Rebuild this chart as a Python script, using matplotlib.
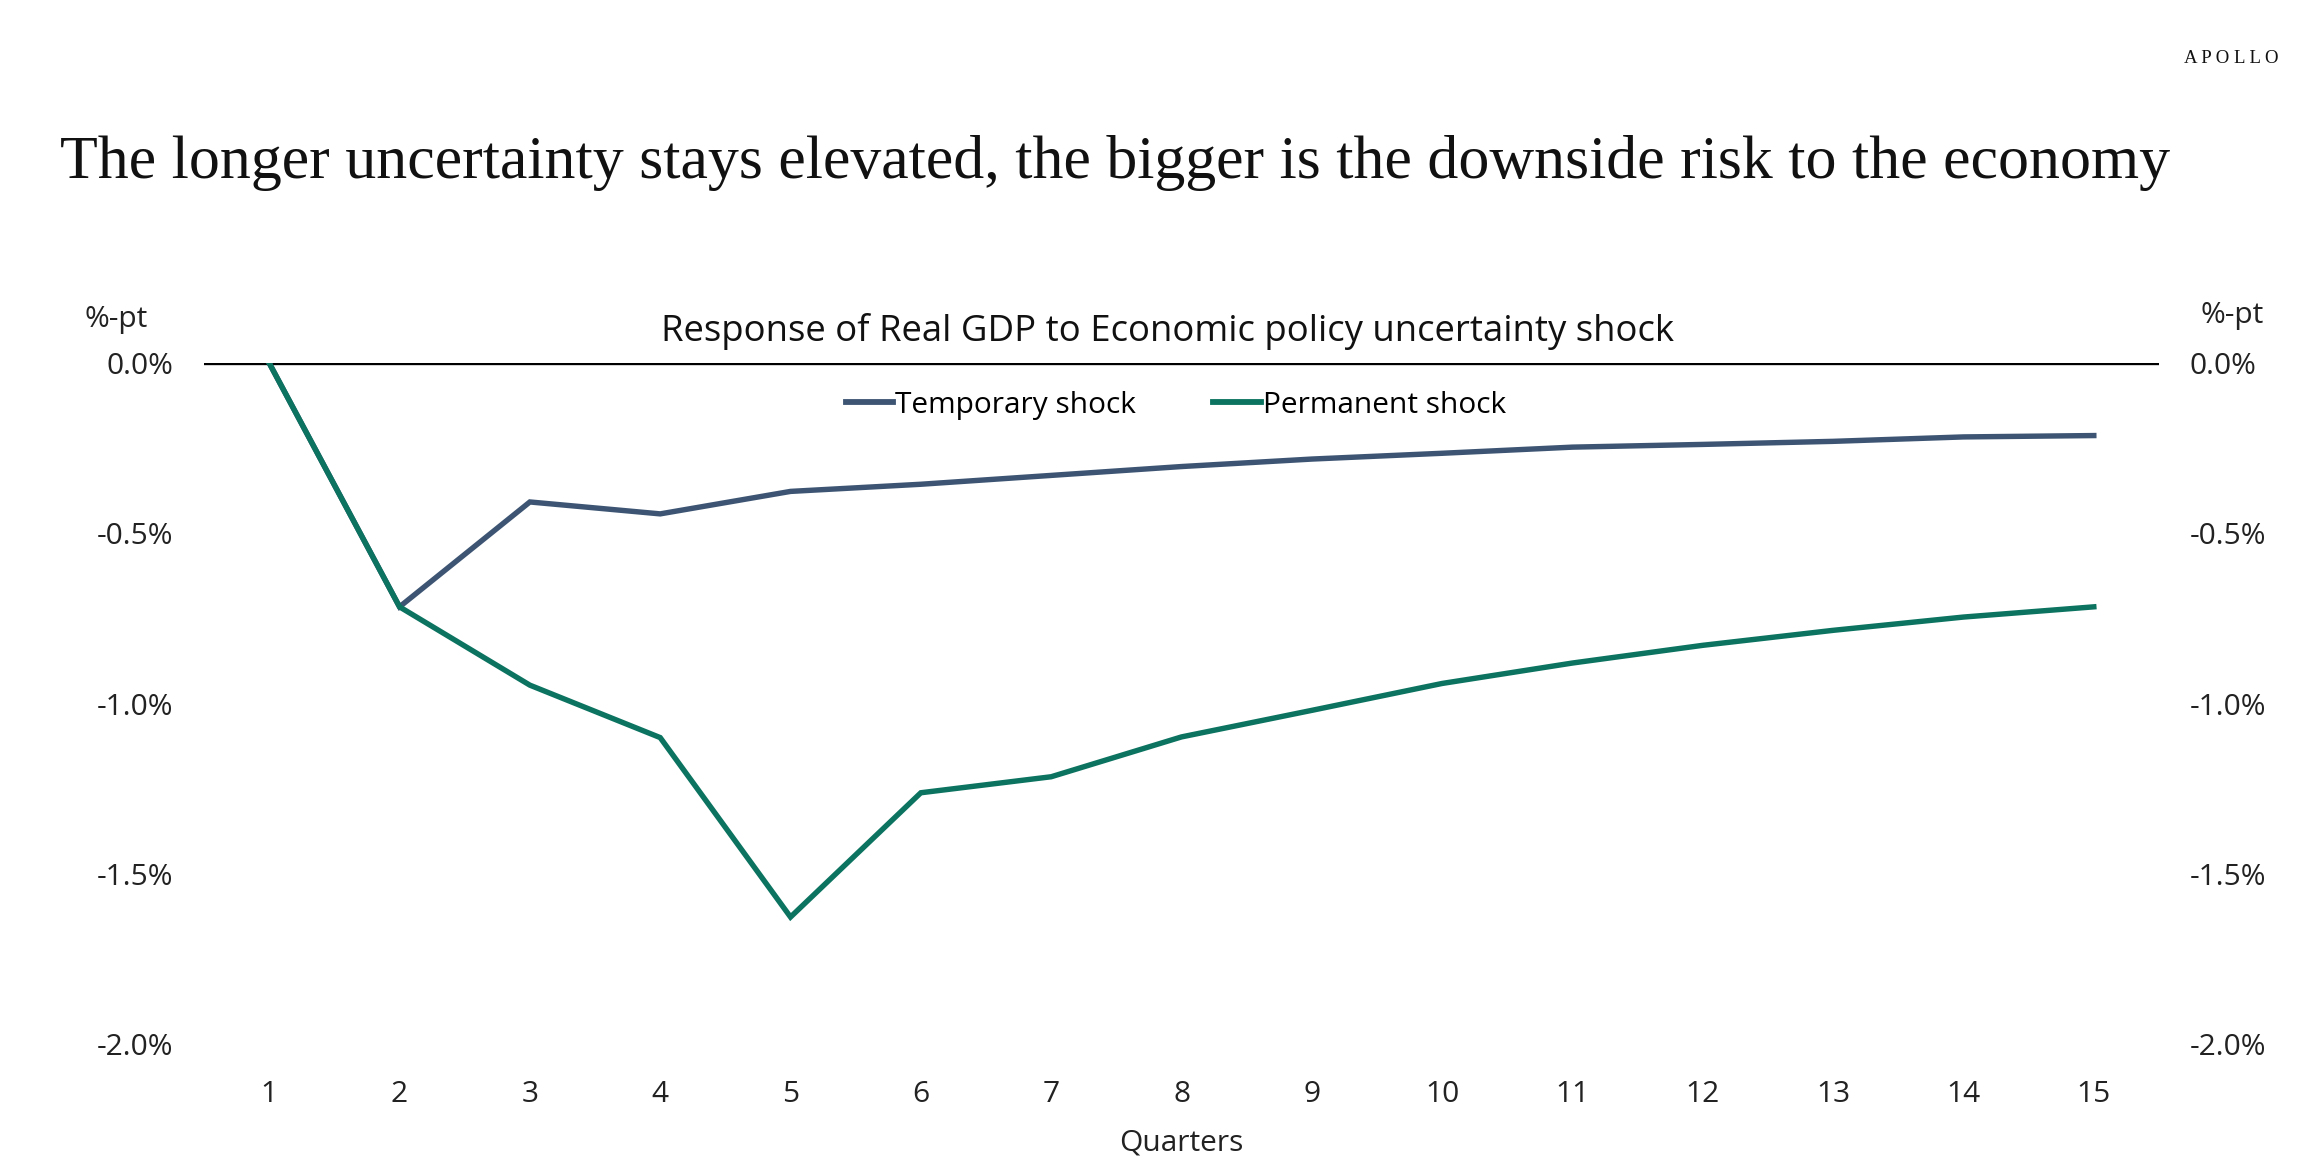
import matplotlib.pyplot as plt
from matplotlib.ticker import FuncFormatter

# ---------------- DATA ----------------

quarters = list(range(1, 16))

temporary = [0.0, -0.716, -0.408, -0.443, -0.377, -0.356, -0.330, -0.304,
             -0.282, -0.265, -0.247, -0.239, -0.230, -0.217, -0.213]

permanent = [0.0, -0.716, -0.946, -1.100, -1.627, -1.262, -1.215, -1.098,
             -1.020, -0.941, -0.881, -0.829, -0.785, -0.746, -0.716]

y_ticks = [0.0, -0.5, -1.0, -1.5, -2.0]

title = "The longer uncertainty stays elevated, the bigger is the downside risk to the economy"
subtitle = "Response of Real GDP to Economic policy uncertainty shock"


# ---------------- STYLE ----------------

sans = ["Open Sans", "DejaVu Sans"]
serif = ["Liberation Serif", "DejaVu Serif"]

col_temp = "#3d5573"
col_perm = "#0b7360"
txt = "#222222"
fs = 21.5


# ---------------- PLOT ----------------

fig = plt.figure(figsize=(23.16, 11.76), dpi=100)

ax = fig.add_axes([0.0881, 0.1122, 0.8441, 0.5791])

ax.plot(quarters, temporary, color=col_temp, lw=3.9, label="Temporary shock",
        solid_joinstyle="miter")
ax.plot(quarters, permanent, color=col_perm, lw=3.9, label="Permanent shock",
        solid_joinstyle="miter")

ax.axhline(0, color="black", lw=2.4, zorder=1)

ax.set_xlim(0.5, 15.5)
ax.set_ylim(-2.0, 0.0)

ax.set_xticks(quarters)
ax.set_yticks(y_ticks)

pct = FuncFormatter(lambda v, p: f"{v:.1f}%")
ax.yaxis.set_major_formatter(pct)

for s in ax.spines.values():
    s.set_visible(False)

ax.tick_params(axis="both", length=0, labelsize=fs, colors=txt)
ax.tick_params(axis="y", pad=22)
ax.tick_params(axis="x", pad=26)
for lbl in ax.get_xticklabels() + ax.get_yticklabels():
    lbl.set_family(sans)

ax.set_xlabel("Quarters", fontsize=fs, family=sans, labelpad=14, color=txt)

# right side labels
ax2 = ax.twinx()
ax2.set_ylim(-2.0, 0.0)
ax2.set_yticks(y_ticks)
ax2.yaxis.set_major_formatter(pct)
for s in ax2.spines.values():
    s.set_visible(False)
ax2.tick_params(axis="y", length=0, labelsize=fs, pad=22, colors=txt)
for lbl in ax2.get_yticklabels():
    lbl.set_family(sans)

leg = ax.legend(loc="upper center", bbox_to_anchor=(0.497, 0.999), ncol=2,
                frameon=False, handlelength=1.6, handletextpad=0.05,
                columnspacing=2.6, prop={"family": sans, "size": fs})
for line in leg.get_lines():
    line.set_linewidth(4.2)

# ---------------- TEXT ----------------

fig.text(0.0364, 0.728, "%-pt", fontsize=fs, family=sans, color=txt, va="center")
fig.text(0.9502, 0.732, "%-pt", fontsize=fs, family=sans, color=txt, va="center")

fig.text(0.504, 0.718, subtitle, fontsize=26.3, family=sans, ha="center",
         va="center", color="#111111")

fig.text(0.0259, 0.861, title, fontsize=44.6, family=serif, ha="left",
         va="center", color="#111111")

fig.text(0.984, 0.950, "A P O L L O", fontsize=13.5, family=serif, ha="right",
         va="center", color="#111111")

fig.savefig("out.png", dpi=100)
